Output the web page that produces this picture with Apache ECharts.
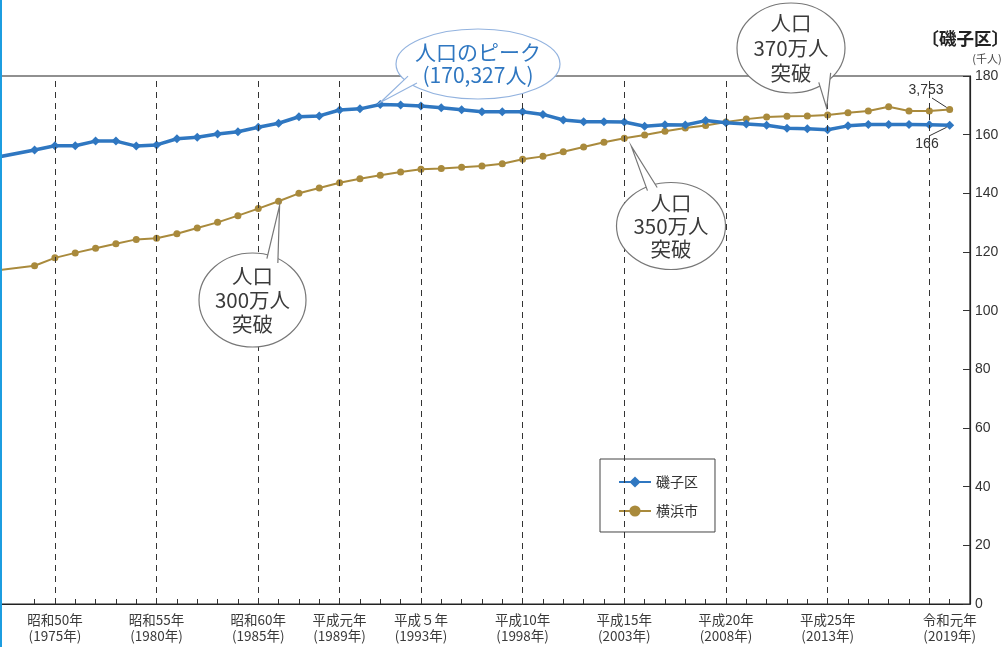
<!DOCTYPE html>
<html><head><meta charset="utf-8">
<script src="https://cdn.jsdelivr.net/npm/echarts@6/dist/echarts.min.js"></script>
<style>html,body{margin:0;padding:0;background:#fff}#c{width:1003px;height:647px}</style>
</head><body><div id="c"></div>
<script>
const years = [1970,1974,1975,1976,1977,1978,1979,1980,1981,1982,1983,1984,1985,1986,1987,1988,1989,1990,1991,1992,1993,1994,1995,1996,1997,1998,1999,2000,2001,2002,2003,2004,2005,2006,2007,2008,2009,2010,2011,2012,2013,2014,2015,2016,2017,2018,2019];
const isogoValues = [149.4,154.8,156.2,156.2,157.8,157.8,156.1,156.5,158.6,159.1,160.2,161.0,162.5,163.9,166.1,166.4,168.4,168.8,170.3,170.1,169.8,169.2,168.5,167.8,167.8,167.8,166.9,165.0,164.4,164.4,164.3,162.9,163.4,163.3,164.8,164.1,163.6,163.2,162.2,162.0,161.7,163.0,163.5,163.5,163.5,163.4,163.2];
const yokohamaValues = [112.0,115.3,118.0,119.7,121.3,122.8,124.3,124.7,126.2,128.2,130.1,132.4,134.8,137.3,140.0,141.8,143.6,145.0,146.2,147.3,148.2,148.5,148.9,149.3,150.1,151.6,152.6,154.2,155.8,157.4,158.8,159.9,161.2,162.3,163.1,164.3,165.3,166.0,166.3,166.4,166.7,167.5,168.1,169.5,168.1,168.1,168.6];
const tickYears = [1974,1975,1976,1977,1978,1979,1980,1981,1982,1983,1984,1985,1986,1987,1988,1989,1990,1991,1992,1993,1994,1995,1996,1997,1998,1999,2000,2001,2002,2003,2004,2005,2006,2007,2008,2009,2010,2011,2012,2013,2014,2015,2016,2017,2018,2019];
const guideYears = [1975,1980,1985,1989,1993,1998,2003,2008,2013,2018];
const labelYears = [1975,1980,1985,1989,1993,1998,2003,2008,2013,2019];
const labelEras = ['昭和50年','昭和55年','昭和60年','平成元年','平成５年','平成10年','平成15年','平成20年','平成25年','令和元年'];
const seriesNames = ['磯子区','横浜市'];

const JP = "'Noto Sans CJK JP', 'Noto Sans', sans-serif";
const NUM = "'Liberation Sans Narrow', 'Liberation Sans', sans-serif";
const BLUE = '#2f77c1', BROWN = '#a98a3c';

const pair = arr => years.map((y, i) => [y, arr[i]]);
const chart = echarts.init(document.getElementById('c'));
chart.setOption({
  animation: false,
  backgroundColor: '#fff',
  grid: {left: 0, right: 33, top: 76, bottom: 43, show: true, borderColor: '#222', borderWidth: 1.2},
  legend: {
    left: 600, top: 459, orient: 'vertical',
    padding: [16, 17, 14, 18], itemGap: 15, itemWidth: 32, itemHeight: 14,
    borderColor: '#444', borderWidth: 1,
    textStyle: {fontFamily: JP, fontSize: 14, color: '#333'},
    data: seriesNames
  },
  xAxis: {
    type: 'value', min: 1972.3, max: 2020,
    axisLine: {show: true, lineStyle: {color: '#222', width: 1.2}},
    axisTick: {show: true, inside: true, length: 5, customValues: tickYears, lineStyle: {color: '#333'}},
    axisLabel: {
      customValues: labelYears, margin: 8, fontFamily: JP, fontSize: 13.5, color: '#3a3a3a', lineHeight: 16,
      formatter: v => labelEras[labelYears.indexOf(v)] + '\n(' + v + '年)'
    },
    splitLine: {show: false}
  },
  yAxis: {
    type: 'value', position: 'right', min: 0, max: 180, interval: 20,
    axisLine: {show: true, lineStyle: {color: '#222', width: 1.2}},
    axisTick: {show: true, inside: true, length: 7, lineStyle: {color: '#333'}},
    axisLabel: {margin: 5, fontFamily: NUM, fontSize: 14, color: '#333'},
    splitLine: {show: false}
  },
  series: [
    {
      name: seriesNames[1], type: 'line', data: pair(yokohamaValues),
      symbol: 'circle', symbolSize: 7, color: BROWN,
      lineStyle: {width: 2, color: BROWN}, itemStyle: {color: BROWN}, z: 3,
      markLine: {
        silent: true, symbol: 'none', label: {show: false},
        lineStyle: {type: [6, 5], color: '#333', width: 1},
        data: guideYears.map(y => ({xAxis: y}))
      }
    },
    {
      name: seriesNames[0], type: 'line', data: pair(isogoValues),
      symbol: 'diamond', symbolSize: 9, color: BLUE,
      lineStyle: {width: 3.5, color: BLUE}, itemStyle: {color: BLUE}, z: 4
    }
  ]
});

const px = (x, y) => chart.convertToPixel({xAxisIndex: 0, yAxisIndex: 0}, [x, y]);
function bubble(cx, cy, rx, ry, a1, a2, tip, stroke, text, color, fs, lh) {
  const r = d => d * Math.PI / 180;
  const p1 = [cx + rx * 0.92 * Math.cos(r(a1)), cy + ry * 0.92 * Math.sin(r(a1))];
  const p2 = [cx + rx * 0.92 * Math.cos(r(a2)), cy + ry * 0.92 * Math.sin(r(a2))];
  return [
    {type: 'ellipse', z: 101, shape: {cx, cy, rx, ry}, style: {fill: '#fff', stroke: stroke, lineWidth: 1.2}},
    {type: 'polygon', z: 102, shape: {points: [p1, tip, p2]}, style: {fill: '#fff', stroke: null}},
    {type: 'polyline', z: 103, shape: {points: [p1, tip, p2]}, style: {fill: 'none', stroke: stroke, lineWidth: 1.2}},
    {type: 'text', z: 104, x: cx, y: cy, style: {text, fill: color, font: fs + 'px ' + JP, align: 'center', verticalAlign: 'middle', lineHeight: lh}}
  ];
}
const iPeak = isogoValues.indexOf(Math.max(...isogoValues));
const peak = px(years[iPeak], isogoValues[iPeak]);
const y300 = px(1986, yokohamaValues[years.indexOf(1986)]);
const y350 = px(2003, yokohamaValues[years.indexOf(2003)]);
const y370 = px(2013, yokohamaValues[years.indexOf(2013)]);
const lastB = px(2019, yokohamaValues[years.length - 1]);
const lastI = px(2019, isogoValues[years.length - 1]);

const g = [
  {type: 'rect', z: 200, shape: {x: 0, y: 0, width: 2, height: 647}, style: {fill: '#1c9de0'}},
  ...bubble(478, 64, 82, 35, 144, 158, [peak[0], peak[1] - 2], '#93b3df', '人口のピーク\n(170,327人)', BLUE, 21, 23),
  ...bubble(252.5, 300, 53.5, 47, -73, -59, [y300[0] + 1, y300[1] + 4], '#777', '人口\n300万人\n突破', '#3a3a3a', 20.5, 24),
  ...bubble(671, 226, 54.5, 43.5, -118, -106, [y350[0] + 7, y350[1] + 8], '#777', '人口\n350万人\n突破', '#3a3a3a', 20.5, 23),
  ...bubble(791, 48, 54, 45, 56, 37, [y370[0] - 1, y370[1] - 7], '#777', '人口\n370万人\n突破', '#3a3a3a', 20.5, 25),
  {type: 'text', z: 110, x: 926, y: 90, style: {text: '3,753', fill: '#333', font: '14px ' + NUM, align: 'center', verticalAlign: 'middle'}},
  {type: 'line', z: 110, shape: {x1: 932, y1: 98, x2: lastB[0] - 3, y2: lastB[1] - 2}, style: {stroke: '#333', lineWidth: 1}},
  {type: 'text', z: 110, x: 927, y: 144, style: {text: '166', fill: '#333', font: '14px ' + NUM, align: 'center', verticalAlign: 'middle'}},
  {type: 'line', z: 110, shape: {x1: 929, y1: 136, x2: lastI[0] - 3, y2: lastI[1] + 2}, style: {stroke: '#333', lineWidth: 1}},
  {type: 'text', z: 110, x: 1009, y: 38, style: {text: '〔磯子区〕', fill: '#222', font: 'bold 17.5px ' + JP, align: 'right', verticalAlign: 'middle'}},
  {type: 'text', z: 110, x: 987, y: 59, style: {text: '(千人)', fill: '#444', font: '11px ' + JP, align: 'center', verticalAlign: 'middle'}}
];
chart.setOption({graphic: g});
</script></body></html>
